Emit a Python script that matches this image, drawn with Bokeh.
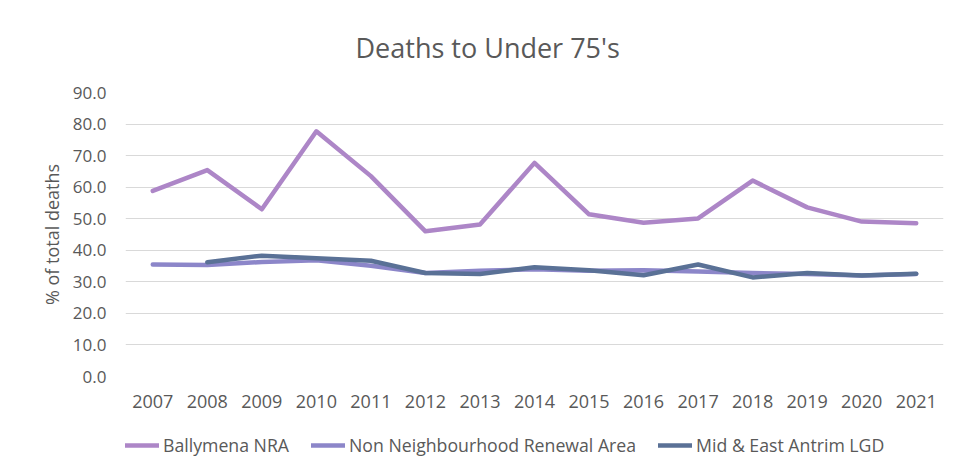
import math
from bokeh.plotting import figure
from bokeh.layouts import column
from bokeh.models import Range1d, Legend, LegendItem, NumeralTickFormatter, FixedTicker
from bokeh.embed import file_html
from bokeh.resources import INLINE

nan = math.nan
years = [str(y) for y in range(2007, 2022)]
ballymena_nra = [58.8, 65.4, 53.0, 77.7, 63.5, 46.0, 48.2, 67.7, 51.4, 48.7, 50.1, 62.1, 53.6, 49.1, 48.6]
non_nra = [35.5, 35.3, 36.3, 36.8, 35.1, 32.8, 33.5, 34.0, 33.5, 33.7, 33.3, 32.8, 32.5, 32.0, 32.5]
mea_lgd = [nan, 36.2, 38.3, 37.5, 36.7, 32.8, 32.5, 34.6, 33.7, 32.1, 35.5, 31.4, 32.8, 32.0, 32.6]
y_ticks = [0, 10, 20, 30, 40, 50, 60, 70, 80, 90]

series_names = ["Ballymena NRA", "Non Neighbourhood Renewal Area", "Mid & East Antrim LGD"]
colors = ["#AD86C7", "#8C86C9", "#5A7196"]

FONT = "Open Sans"
TXT = "#595959"

p = figure(x_range=years, y_range=Range1d(0, 90), width=950, height=416,
           output_backend="svg", toolbar_location=None,
           min_border_left=125, min_border_right=7, min_border_top=90, min_border_bottom=40)

p.title.text = "Deaths to Under 75's"
p.title.align = "left"
p.title.offset = 230
p.title.text_font = FONT
p.title.text_font_size = "27px"
p.title.text_font_style = "normal"
p.title.text_color = TXT
p.title.standoff = 53

for vals, c in zip([ballymena_nra, non_nra, mea_lgd], colors):
    p.line(years, vals, line_color=c, line_width=4.5, line_cap="round", line_join="round")

p.outline_line_color = None
p.background_fill_color = "white"
p.border_fill_color = "white"

p.xgrid.grid_line_color = None
p.ygrid.grid_line_color = "#D9D9D9"
p.ygrid.grid_line_width = 1
p.yaxis.ticker = FixedTicker(ticks=y_ticks)
p.yaxis.formatter = NumeralTickFormatter(format="0.0")

for ax in (p.xaxis, p.yaxis):
    ax.axis_line_color = None
    ax.major_tick_line_color = None
    ax.minor_tick_line_color = None
    ax.major_label_text_font = FONT
    ax.major_label_text_color = TXT

p.xaxis.major_label_text_font_size = "18px"
p.yaxis.major_label_text_font_size = "17px"
p.xaxis.major_label_standoff = 12
p.yaxis.major_label_standoff = 13
p.yaxis.axis_label = "% of total deaths"
p.yaxis.axis_label_text_font = FONT
p.yaxis.axis_label_text_font_size = "18px"
p.yaxis.axis_label_text_font_style = "normal"
p.yaxis.axis_label_text_color = TXT
p.yaxis.axis_label_standoff = 6

# legend strip below the chart (its own small figure; legend drawn inside its frame)
lg = figure(width=950, height=58, x_range=Range1d(0, 1), y_range=Range1d(0, 1),
            output_backend="svg", toolbar_location=None,
            min_border=0, x_axis_type=None, y_axis_type=None)
lg.grid.visible = False
lg.outline_line_color = None
lg.background_fill_color = "white"
lg.border_fill_color = "white"
# renderers only used for the legend swatches; their points lie outside the visible range
lg_renderers = [lg.line([5, 6], [5, 6], line_color=c, line_width=4.5, line_cap="round") for c in colors]

legend = Legend(items=[LegendItem(label=n, renderers=[r]) for n, r in zip(series_names, lg_renderers)],
                orientation="horizontal", location=(0, 17),
                glyph_width=34, glyph_height=20, label_standoff=4, spacing=22,
                padding=0, margin=0,
                label_text_font=FONT, label_text_font_size="17.7px", label_text_color=TXT,
                background_fill_alpha=0, border_line_color=None)
lg.add_layout(legend, "center")

layout = column(p, lg, spacing=0)
open("out.html", "w").write(file_html(layout, INLINE))
